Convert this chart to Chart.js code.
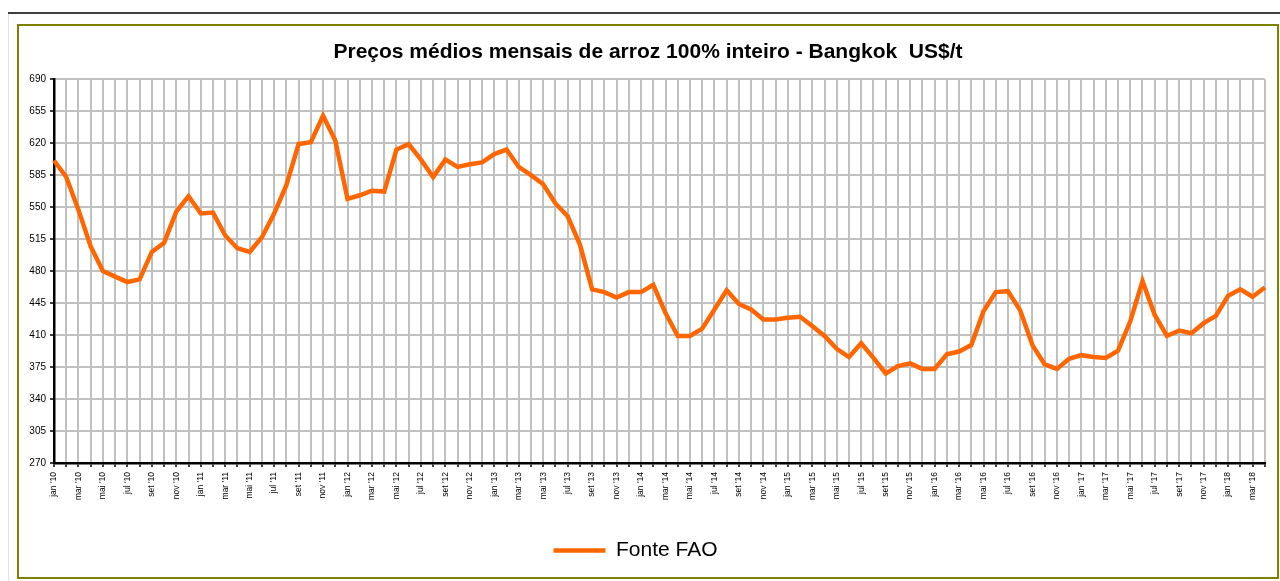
<!DOCTYPE html>
<html>
<head>
<meta charset="utf-8">
<title>Preços médios mensais de arroz - Bangkok</title>
<script src="https://cdn.jsdelivr.net/npm/chart.js@4.4.1/dist/chart.umd.min.js"></script>
<style>
    html, body { margin: 0; padding: 0; background: #fff; }
    #wrap { position: relative; width: 1280px; height: 581px; }
</style>
</head>
<body>
<div id="wrap"><canvas id="rice-chart" width="1280" height="581"></canvas></div>
<script>
// Categories: monthly, jan '10 .. abr '18
var monthNames = ["jan", "fev", "mar", "abr", "mai", "jun", "jul", "ago", "set", "out", "nov", "dez"];
var years = ["10", "11", "12", "13", "14", "15", "16", "17", "18"];
var monthsInLastYear = 4;

// Bangkok 100% whole rice, US$/t
var prices = [
    601, 583, 547, 507, 480, 474, 468, 471, 501, 511,
    545, 562, 543, 544, 519, 505, 501, 517, 543, 574,
    619, 621, 650, 623, 559, 563, 568, 567, 613, 619,
    602, 583, 602, 594, 597, 599, 608, 613, 594, 585,
    575, 554, 540, 509, 460, 457, 451, 457, 457, 465,
    434, 409, 409, 417, 438, 459, 444, 438, 427, 427,
    429, 430, 420, 409, 395, 386, 401, 385, 368, 376,
    379, 373, 373, 389, 392, 399, 436, 457, 458, 437,
    399, 378, 373, 384, 388, 386, 385, 393, 425, 469,
    432, 409, 415, 412, 423, 431, 453, 460, 452, 462
];

// Y axis ticks
var yMin = 270;
var yMax = 690;
var yStep = 35;

var labels = [];
years.forEach(function (yy, n) {
    var count = (n === years.length - 1) ? monthsInLastYear : 12;
    for (var m = 0; m < count; m++) {
        labels.push(monthNames[m] + " '" + yy);
    }
});

Chart.defaults.font.family = '"Liberation Sans", Arial, sans-serif';
Chart.defaults.color = '#000';

// frame around the chart, like the spreadsheet object
var framePlugin = {
    id: 'frame',
    afterLayout: function (chart) {
        // title is centred on the frame, not on the canvas
        if (chart.titleBlock) {
            chart.titleBlock.left = 18;
            chart.titleBlock.right = 1278;
        }
    },
    beforeDraw: function (chart) {
        var c = chart.ctx;
        c.save();
        c.fillStyle = '#fff';
        c.fillRect(0, 0, chart.width, chart.height);
        c.strokeStyle = '#000';
        c.lineWidth = 1.5;
        c.beginPath(); c.moveTo(8, 13); c.lineTo(1280, 13); c.stroke();
        c.strokeStyle = '#e0e0e0';
        c.lineWidth = 1;
        c.beginPath(); c.moveTo(8.5, 14); c.lineTo(8.5, 581); c.stroke();
        c.strokeStyle = '#808000';
        c.lineWidth = 2;
        c.strokeRect(18, 25, 1260, 553);
        c.restore();
    }
};

var ctx = document.getElementById("rice-chart");

var chartData = {
    labels: labels,
    datasets: [{
        label: "Fonte FAO",
        data: prices,
        borderColor: "#FF6600",
        backgroundColor: "#FF6600",
        borderWidth: 4.5,
        pointRadius: 0,
        tension: 0,
        fill: false
    }]
};

var chartOptions = {
    responsive: false,
    animation: false,
    layout: { padding: { left: 0, right: 9, top: 0, bottom: 10 } },
    plugins: {
        title: {
            display: true,
            text: "Preços médios mensais de arroz 100% inteiro - Bangkok  US$/t",
            font: { size: 21, weight: 'bold' },
            color: '#000',
            padding: { top: 40, bottom: 14 }
        },
        legend: {
            position: 'bottom',
            labels: {
                usePointStyle: true,
                pointStyle: 'line',
                pointStyleWidth: 52,
                font: { size: 21 },
                color: '#000',
                padding: 27
            }
        },
        tooltip: { enabled: false }
    },
    scales: {
        x: {
            offset: false,
            grid: { color: '#c0c0c0', lineWidth: 2, tickColor: '#000', tickLength: 4, tickWidth: 1.5 },
            border: { color: '#000', width: 2.5 },
            ticks: {
                autoSkip: false,
                minRotation: 90,
                maxRotation: 90,
                padding: 5,
                font: { size: 8.5 },
                callback: function (val, index) {
                    return index % 2 === 0 ? this.getLabelForValue(val) : '';
                }
            },
            afterFit: function (scale) { scale.height = 50; }
        },
        y: {
            min: yMin,
            max: yMax,
            grid: { color: '#c0c0c0', lineWidth: 2, tickColor: '#000', tickLength: 4, tickWidth: 1.5 },
            border: { color: '#000', width: 2.5 },
            ticks: { stepSize: yStep, padding: 4, font: { size: 10 } },
            afterFit: function (scale) { scale.width = 54; }
        }
    }
};

var riceChart = new Chart(ctx, {
    type: 'line',
    data: chartData,
    options: chartOptions,
    plugins: [framePlugin]
});
</script>
</body>
</html>
